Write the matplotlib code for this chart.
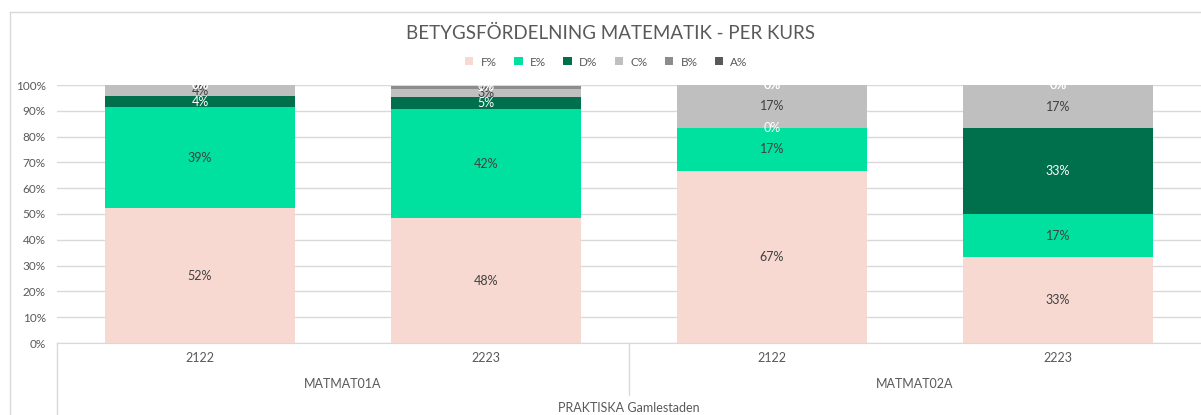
import numpy as np
from matplotlib import pyplot as plt
from matplotlib.patches import Patch
from matplotlib.lines import Line2D

plt.rcParams['font.family'] = ['Lato', 'DejaVu Sans']

years = ['2122', '2223', '2122', '2223']
courses = ['MATMAT01A', 'MATMAT02A']
school = 'PRAKTISKA Gamlestaden'
grades = ['F%', 'E%', 'D%', 'C%', 'B%', 'A%']

f_pct = [52.17, 48.44, 66.67, 33.33]
e_pct = [39.13, 42.19, 16.67, 16.67]
d_pct = [4.35, 4.69, 0.0, 33.33]
c_pct = [4.35, 3.13, 16.67, 16.67]
b_pct = [0.0, 1.2, 0.0, 0.0]
a_pct = [0.0, 0.0, 0.0, 0.0]

colors = ['#F7D9D1', '#00E09E', '#006F4B', '#BFBFBF', '#8C8C8C', '#595959']
label_colors = ['#404040', '#404040', 'white', '#404040', 'white', 'white']

series = [f_pct, e_pct, d_pct, c_pct, b_pct, a_pct]

fig = plt.figure(figsize=(12.01, 4.15), dpi=100)
ax = fig.add_axes([57 / 1201, 72 / 415, 1 - 57 / 1201, 258 / 415])

x = np.arange(len(years))
bottom = np.zeros(len(years))
for vals, col, lc in zip(series, colors, label_colors):
    vals = np.array(vals)
    ax.bar(x, vals, 0.665, bottom=bottom, color=col, zorder=2)
    for xi, v, b in zip(x, vals, bottom):
        ax.text(xi, b + v / 2, f'{v:.0f}%', ha='center', va='center',
                fontsize=9, color=lc, zorder=3)
    bottom += vals

ax.set_xlim(-0.5, 3.5)
ax.set_ylim(0, 100)
ax.set_yticks(np.arange(0, 101, 10))
ax.set_yticklabels([f'{t}%' for t in range(0, 101, 10)])
ax.tick_params(axis='y', length=0, labelsize=8.5, labelcolor='#595959', pad=8)
ax.set_xticks([])
ax.grid(axis='y', color='#D9D9D9', linewidth=1, zorder=0)
for s in ['top', 'right', 'left']:
    ax.spines[s].set_visible(False)
ax.spines['bottom'].set_color('#D9D9D9')

# category axis below the plot
tr = ax.get_xaxis_transform()
for xi, yr in zip(x, years):
    ax.text(xi, -0.058, yr, transform=tr, ha='center', va='center',
            fontsize=9, color='#595959')
for i, c in enumerate(courses):
    ax.text(2 * i + 0.5, -0.159, c, transform=tr, ha='center', va='center',
            fontsize=9, color='#595959')
ax.text(1.5, -0.25, school, transform=tr, ha='center', va='center',
        fontsize=9, color='#595959')
ax.plot([-0.5, -0.5], [0, -0.3], transform=tr, color='#D9D9D9', lw=1, clip_on=False)
ax.plot([1.5, 1.5], [0, -0.2], transform=tr, color='#D9D9D9', lw=1, clip_on=False)

# ram runt diagrammet
fig.add_artist(Line2D([10 / 1201, 1], [403 / 415, 403 / 415], color='#D9D9D9', lw=1))
fig.add_artist(Line2D([10 / 1201, 10 / 1201], [0, 403 / 415], color='#D9D9D9', lw=1))

fig.text(0.508, (415 - 33) / 415, 'BETYGSFÖRDELNING MATEMATIK - PER KURS',
         ha='center', va='center', fontsize=13.5, color='#595959')

handles = [Patch(facecolor=c, label=g) for c, g in zip(colors, grades)]
fig.legend(handles=handles, loc='center', bbox_to_anchor=(0.505, (415 - 62) / 415),
           ncol=6, frameon=False, fontsize=8.5, handlelength=0.7, handleheight=0.7,
           handletextpad=0.6, columnspacing=1.5, labelcolor='#595959')

fig.savefig('out.png', dpi=100)
